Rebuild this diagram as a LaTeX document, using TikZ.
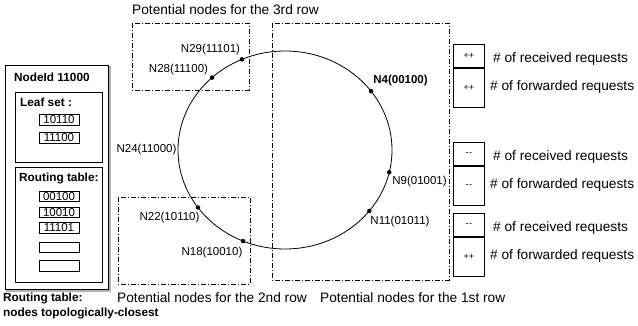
\documentclass[tikz,border=0pt]{standalone}
\usepackage{fontspec}
\setmainfont{Liberation Sans}
\usetikzlibrary{calc,positioning}
\newcommand{\minmin}{-\kern0.5pt-}

\begin{document}
\begin{tikzpicture}[x=1pt,y=-1pt,
    region/.style={dash pattern=on 5pt off 2pt on 1pt off 2pt, line width=0.7pt},
    peer/.style={circle, fill=black, inner sep=0pt, minimum size=4.5pt},
    peerlabel/.style={font=\fontsize{11.5}{13}\selectfont, inner sep=0pt},
    entry/.style={draw, line width=0.7pt, minimum width=40pt, minimum height=10.5pt,
      inner sep=0pt, font=\fontsize{11.5}{12}\selectfont},
    cell/.style={draw, line width=0.8pt, minimum width=31pt, inner sep=0pt,
      font=\fontsize{9}{10}\selectfont},
    caption/.style={font=\fontsize{13.7}{15}\selectfont, inner sep=0pt, anchor=west},
    heading/.style={font=\bfseries\fontsize{11.8}{13}\selectfont, inner sep=0pt, anchor=west}]

  \useasboundingbox (0,0) rectangle (638,326);

  % node 11000 with its leaf set and routing table
  \draw[gray!60, line width=1.4pt] (7,67) rectangle (110,291);
  \draw[fill=white, line width=0.8pt] (5,65) rectangle (108,289);
  \node[heading] (nodeid) at (14,77) {NodeId 11000};
  \draw[line width=0.8pt] (15,92) rectangle (102,162);
  \node[heading] (leafhd) at (20,102) {Leaf set :};
  \node[entry] (leaf1) at (59,120) {10110};
  \node[entry] (leaf2) at (59,138) {11100};
  \draw[line width=0.8pt] (15,167) rectangle (102,282);
  \node[heading] (routehd) at (19,178) {Routing table:};
  \node[entry] (row1) at (59,196.5) {00100};
  \node[entry] (row2) at (59,212.5) {10010};
  \node[entry] (row3) at (59,228) {11101};
  \node[entry] (row4) at (59,247.5) {};
  \node[entry] (row5) at (59,266) {};
  \node[heading] (note1) at (3,298) {Routing table:};
  \node[heading] (note2) at (3,313) {nodes topologically-closest};

  % candidate regions
  \draw[region] (132,23) rectangle (249,90);
  \draw[region] (118,197) rectangle (250,284);
  \draw[region] (272,23) rectangle (449,280);
  \node[caption] (third) at (132,10) {Potential nodes for the 3rd row};
  \node[caption] (second) at (117,298) {Potential nodes for the 2nd row};
  \node[caption] (first) at (320,298) {Potential nodes for the 1st row};

  % the ring
  \coordinate (ctr) at (285,150);
  \draw[line width=0.8pt] (ctr) ellipse (107pt and 99pt);
  \node[peer] (n29) at ($(ctr)+(113.7:107pt and 99pt)$) {};
  \node[peer] (n28) at ($(ctr)+(133:107pt and 99pt)$) {};
  \node[peer] (n22) at ($(ctr)+(215.5:107pt and 99pt)$) {};
  \node[peer] (n18) at ($(ctr)+(246.9:107pt and 99pt)$) {};
  \node[peer] (n4) at ($(ctr)+(36.5:107pt and 99pt)$) {};
  \node[peer] (n9) at ($(ctr)+(-13:107pt and 99pt)$) {};
  \node[peer] (n11) at ($(ctr)+(-38:107pt and 99pt)$) {};
  \node[peerlabel] (l29) at (210.5,50) {N29(11101)};
  \node[peerlabel] (l28) at (178.5,70) {N28(11100)};
  \node[peerlabel] (l24) at (146.5,150) {N24(11000)};
  \node[peerlabel] (l22) at (169.5,218) {N22(10110)};
  \node[peerlabel] (l18) at (212,253) {N18(10010)};
  \node[peerlabel, font=\bfseries\fontsize{11.5}{13}\selectfont] (l4) at (400.5,81) {N4(00100)};
  \node[peerlabel] (l9) at (419.5,182) {N9(01001)};
  \node[peerlabel] (l11) at (400,222) {N11(01011)};

  % request counters
  \foreach \ytop/\rcv/\fwd [count=\i] in {44/++/++, 142/\minmin/\minmin, 213/\minmin/++} {
    \node[cell, minimum height=23pt, anchor=north west] (rcv\i) at (453,\ytop) {\rcv};
    \node[cell, minimum height=39pt, below=0pt of rcv\i] (fwd\i) {\fwd};
    \node[caption] (rcvtxt\i) at (493,\ytop+15) {\# of received requests};
    \node[caption] (fwdtxt\i) at (490,\ytop+42.5) {\# of forwarded requests};
  }
\end{tikzpicture}
\end{document}
